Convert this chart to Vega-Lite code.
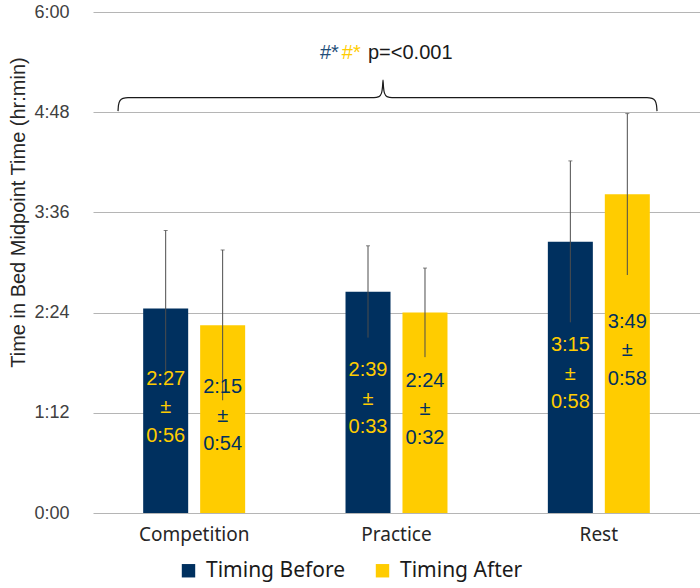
{
  "$schema": "https://vega.github.io/schema/vega-lite/v6.json",
  "width": 607,
  "height": 501,
  "autosize": {"type": "none"},
  "padding": {"left": 93, "top": 12, "right": 0, "bottom": 75},
  "background": "white",
  "config": {
    "view": {"stroke": null},
    "font": "Liberation Sans"
  },
  "datasets": {
    "bars": [
      {"session": "Competition", "timing": "Timing Before", "mean": 147, "sd": 56, "label": "2:27\n±\n0:56"},
      {"session": "Competition", "timing": "Timing After", "mean": 135, "sd": 54, "label": "2:15\n±\n0:54"},
      {"session": "Practice", "timing": "Timing Before", "mean": 159, "sd": 33, "label": "2:39\n±\n0:33"},
      {"session": "Practice", "timing": "Timing After", "mean": 144, "sd": 32, "label": "2:24\n±\n0:32"},
      {"session": "Rest", "timing": "Timing Before", "mean": 195, "sd": 58, "label": "3:15\n±\n0:58"},
      {"session": "Rest", "timing": "Timing After", "mean": 229, "sd": 58, "label": "3:49\n±\n0:58"}
    ],
    "brace": [
      {"i": 0, "bx": 0.0412, "by": 288.8},
      {"i": 1, "bx": 0.0420, "by": 293.1},
      {"i": 2, "bx": 0.0445, "by": 296.3},
      {"i": 3, "bx": 0.0494, "by": 297.9},
      {"i": 4, "bx": 0.0577, "by": 298.5},
      {"i": 5, "bx": 0.4629, "by": 298.5},
      {"i": 6, "bx": 0.4712, "by": 299.2},
      {"i": 7, "bx": 0.4753, "by": 301.7},
      {"i": 8, "bx": 0.4769, "by": 306.0},
      {"i": 9, "bx": 0.4778, "by": 311.1},
      {"i": 10, "bx": 0.4786, "by": 306.0},
      {"i": 11, "bx": 0.4802, "by": 301.7},
      {"i": 12, "bx": 0.4843, "by": 299.2},
      {"i": 13, "bx": 0.4926, "by": 298.5},
      {"i": 14, "bx": 0.9127, "by": 298.5},
      {"i": 15, "bx": 0.9209, "by": 297.9},
      {"i": 16, "bx": 0.9259, "by": 296.3},
      {"i": 17, "bx": 0.9283, "by": 293.1},
      {"i": 18, "bx": 0.9292, "by": 288.8}
    ],
    "note": [
      {"part": "a", "tx": 0.405, "ty": 330.5, "txt": "#*"},
      {"part": "b", "tx": 0.410, "ty": 330.5, "txt": "#*"},
      {"part": "c", "tx": 0.453, "ty": 330.5, "txt": "p=<0.001"}
    ]
  },
  "layer": [
    {
      "data": {"name": "bars"},
      "layer": [
        {
          "mark": {"type": "bar"},
          "encoding": {
            "x": {
              "field": "session", "type": "nominal", "sort": ["Competition", "Practice", "Rest"],
              "scale": {"paddingInner": 0.496, "paddingOuter": 0.248},
              "axis": {"title": null, "labelAngle": 0, "labelFont": "Noto Sans", "labelFontSize": 19, "labelColor": "#262626", "labelPadding": 12, "ticks": false, "domain": false}
            },
            "xOffset": {
              "field": "timing", "type": "nominal", "sort": ["Timing Before", "Timing After"],
              "scale": {"paddingInner": 0.21, "paddingOuter": 0}
            },
            "y": {
              "field": "mean", "type": "quantitative",
              "scale": {"domain": [0, 360], "nice": false},
              "axis": {
                "title": "Time in Bed Midpoint Time (hr:min)",
                "titleFont": "Liberation Sans", "titleFontSize": 20, "titleFontWeight": "normal", "titleColor": "#262626",
                "titleAngle": 270, "titleX": -75, "titleY": 200, "titleAlign": "center", "titleBaseline": "middle",
                "values": [0, 72, 144, 216, 288, 360],
                "labelExpr": "floor(datum.value / 60) + ':' + (datum.value % 60 < 10 ? '0' : '') + (datum.value % 60)",
                "labelFontSize": 18, "labelColor": "#404040", "labelPadding": 24,
                "ticks": false, "domain": false,
                "grid": true, "gridColor": "#b5b5b5", "gridWidth": 1
              }
            },
            "color": {
              "field": "timing", "type": "nominal",
              "scale": {"domain": ["Timing Before", "Timing After"], "range": ["#00305F", "#FFCC00"]},
              "legend": {
                "title": null, "orient": "none", "direction": "horizontal",
                "legendX": 85, "legendY": 548,
                "symbolType": "square", "symbolSize": 180, "symbolStrokeWidth": 0,
                "labelFont": "Noto Sans", "labelFontSize": 21, "labelColor": "#1a1a1a",
                "labelOffset": 7, "columnPadding": 26
              }
            }
          }
        },
        {
          "transform": [
            {"calculate": "datum.mean - datum.sd", "as": "lo"},
            {"calculate": "datum.mean + datum.sd", "as": "hi"}
          ],
          "mark": {"type": "rule", "color": "#4d4d4d", "strokeWidth": 1},
          "encoding": {
            "x": {"field": "session", "type": "nominal", "sort": ["Competition", "Practice", "Rest"]},
            "xOffset": {"field": "timing", "type": "nominal", "sort": ["Timing Before", "Timing After"]},
            "y": {"field": "lo", "type": "quantitative"},
            "y2": {"field": "hi"}
          }
        },
        {
          "transform": [
            {"calculate": "datum.mean + datum.sd", "as": "hi"}
          ],
          "mark": {"type": "tick", "color": "#4d4d4d", "thickness": 1, "size": 4},
          "encoding": {
            "x": {"field": "session", "type": "nominal", "sort": ["Competition", "Practice", "Rest"]},
            "xOffset": {"field": "timing", "type": "nominal", "sort": ["Timing Before", "Timing After"]},
            "y": {"field": "hi", "type": "quantitative"}
          }
        },
        {
          "transform": [
            {"calculate": "datum.mean / 2", "as": "mid"}
          ],
          "mark": {"type": "text", "font": "Liberation Sans", "fontSize": 20, "lineBreak": "\n", "lineHeight": 28.5, "baseline": "middle", "align": "center", "dy": -32},
          "encoding": {
            "x": {"field": "session", "type": "nominal", "sort": ["Competition", "Practice", "Rest"]},
            "xOffset": {"field": "timing", "type": "nominal", "sort": ["Timing Before", "Timing After"]},
            "y": {"field": "mid", "type": "quantitative"},
            "text": {"field": "label"},
            "color": {"condition": {"test": "datum.timing === 'Timing Before'", "value": "#FFCC00"}, "value": "#00305F"}
          }
        }
      ]
    },
    {
      "data": {"name": "brace"},
      "mark": {"type": "line", "color": "#1a1a1a", "strokeWidth": 1.2, "interpolate": "monotone"},
      "encoding": {
        "x": {"field": "bx", "type": "quantitative", "scale": {"domain": [0, 1], "nice": false}, "axis": null},
        "y": {"field": "by", "type": "quantitative"},
        "order": {"field": "i", "type": "quantitative"}
      }
    },
    {
      "data": {"name": "note"},
      "transform": [{"filter": "datum.part === 'a'"}],
      "mark": {"type": "text", "font": "Liberation Sans", "fontSize": 20, "align": "right", "baseline": "middle", "color": "#1F4E79"},
      "encoding": {
        "x": {"field": "tx", "type": "quantitative", "scale": {"domain": [0, 1], "nice": false}, "axis": null},
        "y": {"field": "ty", "type": "quantitative"},
        "text": {"field": "txt"}
      }
    },
    {
      "data": {"name": "note"},
      "transform": [{"filter": "datum.part === 'b'"}],
      "mark": {"type": "text", "font": "Liberation Sans", "fontSize": 20, "align": "left", "baseline": "middle", "color": "#FFCC00"},
      "encoding": {
        "x": {"field": "tx", "type": "quantitative", "scale": {"domain": [0, 1], "nice": false}, "axis": null},
        "y": {"field": "ty", "type": "quantitative"},
        "text": {"field": "txt"}
      }
    },
    {
      "data": {"name": "note"},
      "transform": [{"filter": "datum.part === 'c'"}],
      "mark": {"type": "text", "font": "Liberation Sans", "fontSize": 20, "align": "left", "baseline": "middle", "color": "#1a1a1a"},
      "encoding": {
        "x": {"field": "tx", "type": "quantitative", "scale": {"domain": [0, 1], "nice": false}, "axis": null},
        "y": {"field": "ty", "type": "quantitative"},
        "text": {"field": "txt"}
      }
    }
  ],
  "resolve": {"scale": {"x": "independent"}}
}
